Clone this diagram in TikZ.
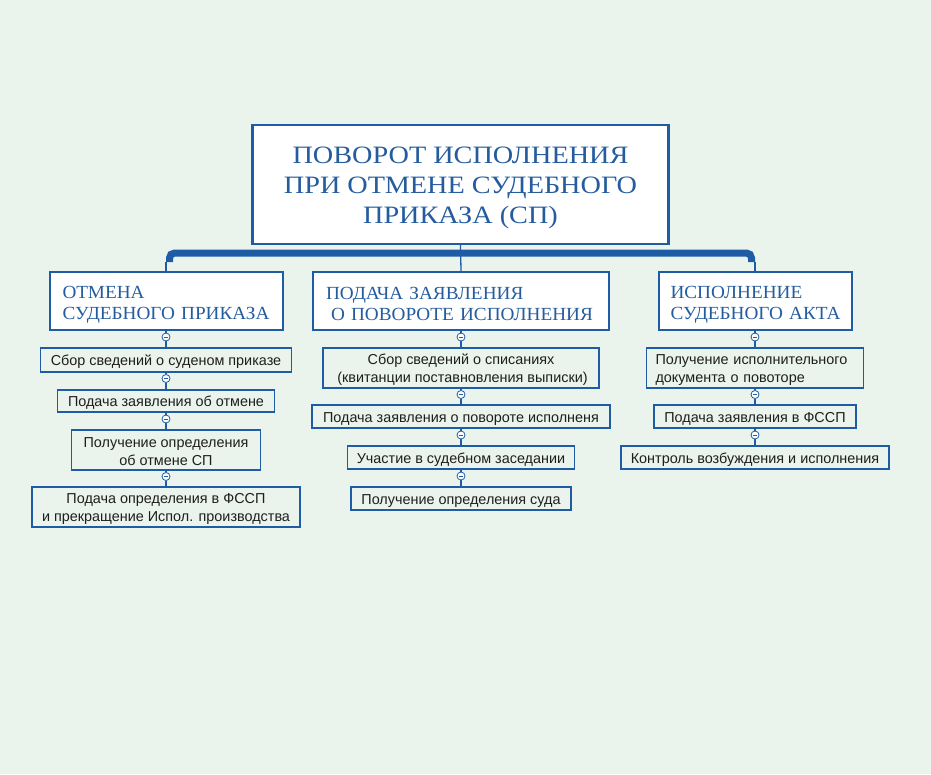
\documentclass[tikz,border=0pt]{standalone}
\usepackage{fontspec}
\setmainfont{Liberation Serif}
\setsansfont{Liberation Sans}
\newfontfamily\titlefont[FakeStretch=1.13]{Liberation Serif}
\newfontfamily\headfont[FakeStretch=1.04]{Liberation Serif}
\definecolor{bg}{HTML}{EAF3EC}
\definecolor{bl}{HTML}{1E5CA6}
\definecolor{tb}{HTML}{245C9E}
\definecolor{tx}{HTML}{1E1E1E}
\newcommand{\lift}{\rule{0pt}{13pt}}
\begin{document}
\begin{tikzpicture}[x=1pt,y=-1pt,
  mainbox/.style={draw=bl,line width=2.4pt,fill=white,inner sep=0pt,align=center,
    text=tb,font=\titlefont\fontsize{25}{30}\selectfont},
  headbox/.style={draw=bl,line width=2pt,fill=white,inner ysep=0pt,align=left,
    text=tb,font=\headfont\fontsize{18.5}{21}\selectfont,
    execute at begin node={\rule{0pt}{19pt}}},
  smallbox/.style={draw=bl,line width=1.6pt,fill=bg,inner sep=0pt,align=center,
    text=tx,font=\sffamily\fontsize{14.4}{18}\selectfont,
    execute at begin node={\rule{0pt}{14.5pt}}},
  smallboxl/.style={smallbox,align=left,inner xsep=9pt},
  knob/.style={circle,draw=bl,line width=0.8pt,fill=white,minimum size=8pt,inner sep=0pt,
    path picture={\draw[bl,line width=0.6pt] ([xshift=-2.2pt]path picture bounding box.center) -- ([xshift=2.2pt]path picture bounding box.center);}},
  link/.style={draw=bl,line width=1.3pt},
  bar/.style={draw=bl,line width=7pt,rounded corners=5pt}]
\fill[bg] (0,0) rectangle (931,774);
\useasboundingbox (0,0) rectangle (931,774);

% main
\node[mainbox,minimum width=416pt,minimum height=119pt] (main) at (460.5,184.5)
  {\rule{0pt}{24pt}ПОВОРОТ ИСПОЛНЕНИЯ\\ПРИ ОТМЕНЕ СУДЕБНОГО\\ПРИКАЗА (СП)};

% headers
\node[headbox,inner xsep=13pt,text width=207pt,minimum height=58pt] (h1) at (166,301)
  {\mbox{ОТМЕНА}\\\mbox{СУДЕБНОГО ПРИКАЗА}};
\node[headbox,inner xsep=13pt,text width=270pt,minimum height=58pt] (h2) at (461,301)
  {\mbox{ПОДАЧА ЗАЯВЛЕНИЯ}\\\mbox{\hspace*{5pt}О ПОВОРОТЕ ИСПОЛНЕНИЯ}};
\node[headbox,inner xsep=12pt,text width=169pt,minimum height=58pt] (h3) at (755,301)
  {\mbox{ИСПОЛНЕНИЕ}\\\mbox{СУДЕБНОГО АКТА}};

% bar
\coordinate (bL) at (166,262);
\coordinate (bR) at (755,262);
\draw[bar] (169.5,262) -- (169.5,253) -- (751.5,253) -- (751.5,262);
\draw[link] (bL) -- (h1.north);
\draw[link] (bR) -- (h3.north);
\draw[link] (main.south) -- (h2.north);

% left column
\node[smallbox,minimum width=251pt,minimum height=24pt] (l1) at (166,360) {Сбор сведений о суденом приказе};
\node[smallbox,minimum width=217pt,minimum height=22pt] (l2) at (166,401) {Подача заявления об отмене};
\node[smallbox,minimum width=189pt,minimum height=40pt] (l3) at (166,450) {\lift Получение определения\\об отмене СП};
\node[smallbox,minimum width=268pt,minimum height=40pt] (l4) at (166,507) {\lift Подача определения в ФССП\\и прекращение Испол. производства};
\node[knob] (k10) at (166,337) {};
\node[knob] (k11) at (166,378.5) {};
\node[knob] (k12) at (166,419) {};
\node[knob] (k13) at (166,476.5) {};

% middle column
\node[smallbox,minimum width=276pt,minimum height=40pt] (m1) at (461,368) {\lift Сбор сведений о списаниях\\\hspace*{3pt}(квитанции поставновления выписки)};
\node[smallbox,minimum width=298pt,minimum height=23pt] (m2) at (461,416.5) {Подача заявления о повороте исполненя};
\node[smallbox,minimum width=227pt,minimum height=23pt] (m3) at (461,457.5) {Участие в судебном заседании};
\node[smallbox,minimum width=220pt,minimum height=23pt] (m4) at (461,498.5) {Получение определения суда};
\node[knob] (k20) at (461,337) {};
\node[knob] (k21) at (461,394.5) {};
\node[knob] (k22) at (461,435) {};
\node[knob] (k23) at (461,476) {};

% right column
\node[smallboxl,text width=199pt,minimum height=40pt] (r1) at (755,368) {\lift Получение исполнительного\\документа о повоторе};
\node[smallbox,minimum width=202pt,minimum height=23pt] (r2) at (755,416.5) {Подача заявления в ФССП};
\node[smallbox,minimum width=268pt,minimum height=23pt] (r3) at (755,457.5) {Контроль возбуждения и исполнения};
\node[knob] (k30) at (755,337) {};
\node[knob] (k31) at (755,394.5) {};
\node[knob] (k32) at (755,435) {};

% links
\draw[link] (h1.south) -- (k10.north) (k10.south) -- (l1.north);
\draw[link] (l1.south) -- (k11.north) (k11.south) -- (l2.north);
\draw[link] (l2.south) -- (k12.north) (k12.south) -- (l3.north);
\draw[link] (l3.south) -- (k13.north) (k13.south) -- (l4.north);
\draw[link] (h2.south) -- (k20.north) (k20.south) -- (m1.north);
\draw[link] (m1.south) -- (k21.north) (k21.south) -- (m2.north);
\draw[link] (m2.south) -- (k22.north) (k22.south) -- (m3.north);
\draw[link] (m3.south) -- (k23.north) (k23.south) -- (m4.north);
\draw[link] (h3.south) -- (k30.north) (k30.south) -- (r1.north);
\draw[link] (r1.south) -- (k31.north) (k31.south) -- (r2.north);
\draw[link] (r2.south) -- (k32.north) (k32.south) -- (r3.north);
\end{tikzpicture}
\end{document}
